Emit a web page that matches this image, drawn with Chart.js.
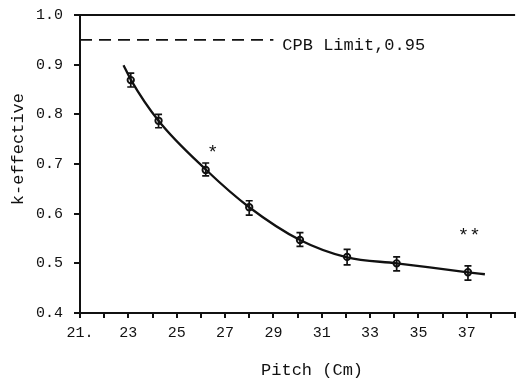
<!DOCTYPE html>
<html>
<head>
<meta charset="utf-8">
<script src="https://cdn.jsdelivr.net/npm/chart.js@4/dist/chart.umd.min.js"></script>
<style>
  html, body { margin: 0; padding: 0; background: #fff; }
  #wrap { width: 521px; height: 381px; }
</style>
</head>
<body>
<div id="wrap"><canvas id="c" width="521" height="381"></canvas></div>
<script>
// ---- data ----
const pitch   = [23.1, 24.25, 26.2, 28.0, 30.1, 32.05, 34.1, 37.05];
const keff    = [0.869, 0.787, 0.688, 0.613, 0.547, 0.513, 0.500, 0.482];
const errLow  = [0.855, 0.773, 0.676, 0.597, 0.534, 0.497, 0.485, 0.466];
const errHigh = [0.883, 0.800, 0.702, 0.626, 0.562, 0.528, 0.513, 0.495];

const fitX = [22.8, 23.1, 24.25, 26.2, 28.0, 30.1, 32.05, 34.1, 37.05, 37.75];
const fitY = [0.899, 0.870, 0.787, 0.689, 0.613, 0.547, 0.512, 0.500, 0.482, 0.478];

const limitX = [21, 29.0];
const limitY = [0.95, 0.95];
const limitLabel = 'CPB Limit,0.95';

const xTickLabels = {21: '21.', 23: '23', 25: '25', 27: '27', 29: '29', 31: '31', 33: '33', 35: '35', 37: '37'};
const yTickValues = [0.4, 0.5, 0.6, 0.7, 0.8, 0.9, 1.0];

const xTitle = 'Pitch (Cm)';
const yTitle = 'k-effective';

const notes = [
  {text: '*',  x: 26.49, y: 0.722, size: 19},
  {text: '**', x: 37.1,  y: 0.555, size: 19},
  {text: limitLabel, x: 29.37, y: 0.938, size: 17, align: 'left'}
];

const FONT = "'Liberation Mono', 'DejaVu Sans Mono', monospace";

const errorBars = {
  id: 'errorBars',
  afterDatasetsDraw(chart) {
    const {ctx, scales: {x, y}} = chart;
    ctx.save();
    ctx.strokeStyle = '#111';
    ctx.lineWidth = 1.7;
    for (let i = 0; i < pitch.length; i++) {
      const px = x.getPixelForValue(pitch[i]);
      const y1 = y.getPixelForValue(errLow[i]);
      const y2 = y.getPixelForValue(errHigh[i]);
      ctx.beginPath();
      ctx.moveTo(px, y1); ctx.lineTo(px, y2);
      ctx.moveTo(px - 3.5, y1); ctx.lineTo(px + 3.5, y1);
      ctx.moveTo(px - 3.5, y2); ctx.lineTo(px + 3.5, y2);
      ctx.stroke();
    }
    ctx.restore();
  }
};

const textNotes = {
  id: 'textNotes',
  afterDraw(chart) {
    const {ctx, scales: {x, y}} = chart;
    ctx.save();
    ctx.fillStyle = '#111';
    ctx.textBaseline = 'middle';
    for (const n of notes) {
      ctx.font = n.size + 'px ' + FONT;
      ctx.textAlign = n.align || 'center';
      ctx.fillText(n.text, x.getPixelForValue(n.x), y.getPixelForValue(n.y));
    }
    // axis titles
    ctx.font = '17px ' + FONT;
    ctx.textAlign = 'center';
    ctx.fillText(xTitle, x.getPixelForValue(30.6), 370);
    ctx.translate(18, y.getPixelForValue(0.73));
    ctx.rotate(-Math.PI / 2);
    ctx.fillText(yTitle, 0, 0);
    ctx.restore();
  }
};

new Chart(document.getElementById('c'), {
  type: 'line',
  data: {
    datasets: [
      {
        label: 'fit',
        data: fitX.map((v, i) => ({x: v, y: fitY[i]})),
        borderColor: '#111',
        borderWidth: 2.3,
        pointRadius: 0,
        cubicInterpolationMode: 'monotone',
        fill: false
      },
      {
        label: 'k-effective',
        data: pitch.map((v, i) => ({x: v, y: keff[i]})),
        showLine: false,
        pointRadius: 3.2,
        pointBorderWidth: 1.9,
        pointBorderColor: '#111',
        pointBackgroundColor: '#fff'
      },
      {
        label: 'limit',
        data: limitX.map((v, i) => ({x: v, y: limitY[i]})),
        borderColor: '#111',
        borderWidth: 1.7,
        borderDash: [12, 7],
        pointRadius: 0,
        fill: false
      }
    ]
  },
  options: {
    responsive: false,
    animation: false,
    devicePixelRatio: 1,
    layout: {padding: {top: 15, right: 0, bottom: 0, left: 0}},
    plugins: {legend: {display: false}, tooltip: {enabled: false}},
    scales: {
      x: {
        type: 'linear',
        min: 21, max: 39,
        afterFit(s) { s.height = 68; s.paddingLeft = 0; s.paddingRight = 0; },
        border: {color: '#111', width: 2},
        grid: {drawOnChartArea: false, tickLength: 5, color: '#111', tickColor: '#111', lineWidth: 2},
        ticks: {
          stepSize: 1,
          autoSkip: false,
          maxRotation: 0,
          padding: 6,
          color: '#111',
          font: {family: FONT, size: 15},
          callback: v => xTickLabels[v] !== undefined ? xTickLabels[v] : ''
        },
        title: {display: false}
      },
      y: {
        type: 'linear',
        min: 0.4, max: 1.0,
        afterFit(s) { s.width = 80; s.paddingTop = 0; s.paddingBottom = 0; },
        afterBuildTicks(s) { s.ticks = yTickValues.map(v => ({value: v})); },
        border: {color: '#111', width: 2},
        grid: {
          drawOnChartArea: true,
          tickLength: 6,
          tickColor: '#111',
          lineWidth: 2,
          color: c => (c.tick && Math.abs(c.tick.value - 1.0) < 1e-9) ? '#111' : 'rgba(0,0,0,0)'
        },
        ticks: {
          padding: 11,
          color: '#111',
          font: {family: FONT, size: 15},
          callback: v => Number(v).toFixed(1)
        },
        title: {display: false}
      }
    }
  },
  plugins: [errorBars, textNotes]
});
</script>
</body>
</html>
